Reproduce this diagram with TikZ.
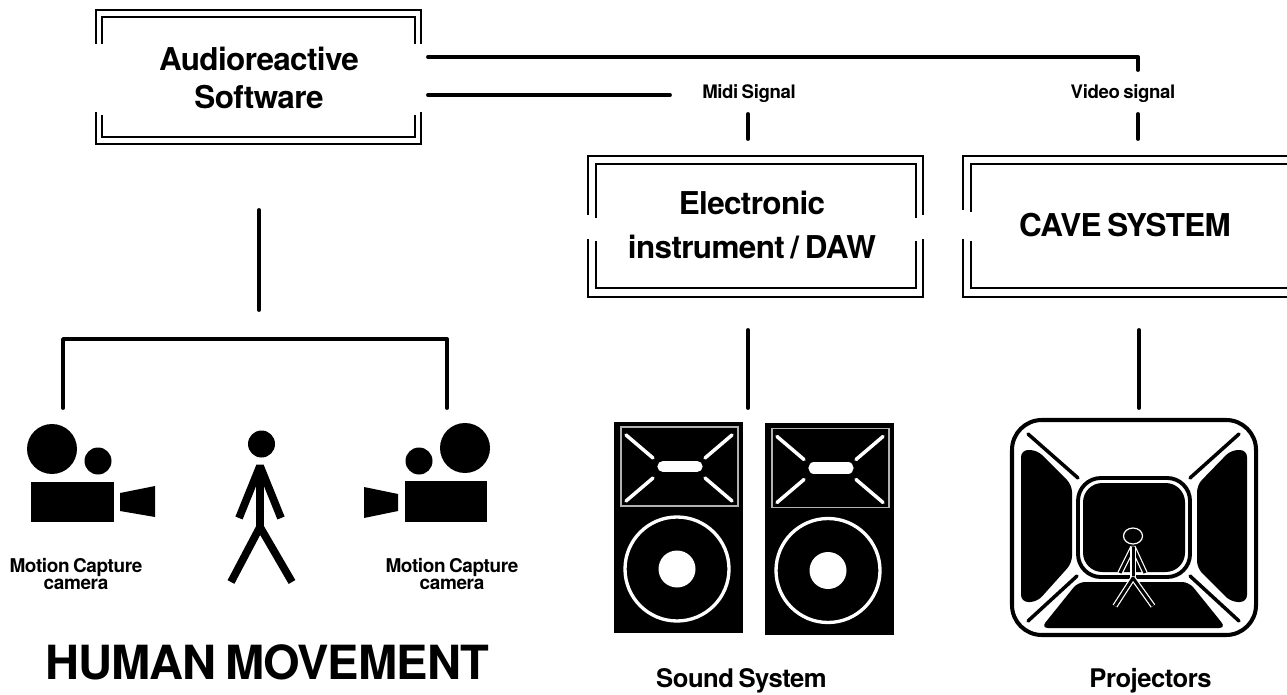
\documentclass[tikz,border=0pt]{standalone}
\usepackage{fontspec}
\setmainfont[LetterSpace=-2.0,WordSpace=0.7]{TeX Gyre Heros}
\usepackage{tikz}

\newcommand{\gapframe}[6]{%
    \draw[boxline] (#1,#5) -- (#1,#2) -- (#3,#2) -- (#3,#5);
    \draw[boxline] (#1,#6) -- (#1,#4) -- (#3,#4) -- (#3,#6);
}

\tikzset{
    boxline/.style={line width=1.2pt, line cap=butt},
    wire/.style={line width=2.2pt, line cap=round, line join=round},
    boxtext/.style={font=\fontsize{17.9}{19}\selectfont\bfseries, align=center, inner sep=0pt},
    labeltext/.style={font=\fontsize{14.6}{16}\selectfont\bfseries, align=center, inner sep=0pt},
    smalltext/.style={font=\fontsize{10.6}{11}\selectfont\bfseries, align=center, inner sep=0pt},
    camtext/.style={font=\fontsize{10.8}{10}\selectfont\bfseries, align=center, inner sep=0pt},
    limb/.style={line width=4.4pt, line cap=butt, line join=bevel},
    thinlimb/.style={draw=white, double=black, line width=0.7pt, double distance=1.7pt, line join=bevel},
    ray/.style={white, line width=2pt, line cap=round},
    beam/.style={line width=2pt, line cap=round},
}

\begin{document}
\begin{tikzpicture}[x=0.02cm, y=-0.02cm]
    \useasboundingbox (0,0) rectangle (1287,695);

    \gapframe{96}{10}{421}{144}{44}{112}
    \gapframe{102}{17}{415}{137}{44}{115}
    \node[boxtext] (software) at (259,78) {Audioreactive\\[3pt]Software};

    \gapframe{588}{156}{923}{297}{215}{239}
    \gapframe{596}{164}{916}{288}{218}{241}
    \node[boxtext] (daw) at (752,225) {Electronic\\[5.6pt]instrument / DAW};

    \gapframe{963}{156}{1289}{297}{210}{239}
    \gapframe{971}{164}{1289}{288}{212}{241}
    \node[boxtext] (cave) at (1125,225) {CAVE SYSTEM};

    \node[smalltext] (midi) at (749,94) {Midi Signal};
    \node[smalltext] (video) at (1123,94) {Video signal};

    \coordinate (softtop) at (428,57);
    \coordinate (softmid) at (428,95);
    \coordinate (midileft) at (670,95);
    \coordinate (videotop) at (1138,57);
    \coordinate (videoend) at (1138,70);
    \draw[wire] (softtop) -- (videotop) -- (videoend);
    \draw[wire] (softmid) -- (midileft);
    \coordinate (midia) at (748,114);
    \coordinate (midib) at (748,139);
    \draw[wire] (midia) -- (midib);
    \coordinate (videoa) at (1138,114);
    \coordinate (videob) at (1138,139);
    \draw[wire] (videoa) -- (videob);

    \coordinate (softdown) at (259,210);
    \coordinate (softend) at (259,310);
    \draw[wire] (softdown) -- (softend);
    \coordinate (camleft) at (63,408);
    \coordinate (camleftup) at (63,339);
    \coordinate (camrightup) at (447,339);
    \coordinate (camright) at (447,408);
    \draw[wire] (camleft) -- (camleftup) -- (camrightup) -- (camright);
    \coordinate (dawdown) at (748,330);
    \coordinate (dawend) at (748,408);
    \draw[wire] (dawdown) -- (dawend);
    \coordinate (cavedown) at (1139,330);
    \coordinate (caveend) at (1139,408);
    \draw[wire] (cavedown) -- (caveend);

    \fill (52,449) circle (25);
    \fill (98,461) circle (13.5);
    \fill (31,482) rectangle (113.5,522);
    \fill (120,493) -- (155,486) -- (155,517) -- (120,511) -- cycle;
    \node[camtext] (camlabelleft) at (76,574) {Motion Capture\\camera};

    \fill (465,448) circle (25);
    \fill (419,461) circle (13.5);
    \fill (405,481) rectangle (487,522);
    \fill (364,487) -- (398,494) -- (398,511) -- (364,518) -- cycle;
    \node[camtext] (camlabelright) at (452,574) {Motion Capture\\camera};

    \fill (261.5,444) circle (13.5);
    \draw[limb] (239,518) -- (260,466) -- (281,518);
    \draw[limb] (260,466) -- (260,532);
    \draw[limb] (231,582) -- (260,527) -- (292,582);

    \node[font=\fontsize{26.8}{30}\selectfont\bfseries, inner sep=0pt] (human) at (267,662) {HUMAN MOVEMENT};

    \foreach \dx/\dy in {0/0, 151/1.5} {
        \begin{scope}[shift={(\dx,\dy)}]
            \fill (614,422) rectangle (743,633);
            \draw[white!70!black, line width=1.1pt] (621,427) rectangle (738,506);
            \draw[white, line width=6.4pt, line cap=round] (663,466.5) -- (697,466.5);
            \draw[ray] (626,435) -- (653,458);
            \draw[ray] (732,435) -- (705,458);
            \draw[ray] (626,501) -- (653,478);
            \draw[ray] (732,501) -- (705,478);
            \draw[white, line width=1.9pt] (677,569) circle (52);
            \fill[white] (677,569) circle (18.5);
        \end{scope}
    }
    \node[labeltext] (sound) at (741.5,681) {Sound System};

    \draw[line width=2.3pt, rounded corners=17pt] (1012,420) rectangle (1256,635);
    \draw[line width=2.2pt, rounded corners=13pt] (1078,478) rectangle (1190,577);
    \fill[rounded corners=11pt] (1083,483) rectangle (1185,572);
    \draw[beam] (1028,434) -- (1078,478);
    \draw[beam] (1239,434) -- (1190,478);
    \draw[beam] (1028,621) -- (1077,576);
    \draw[beam] (1239,621) -- (1190,576);
    \fill[rounded corners=4pt] (1021,450) -- (1037,450) -- (1072,485) -- (1072,563) -- (1037,602) -- (1021,602) -- cycle;
    \fill[rounded corners=4pt] (1247,450) -- (1231,450) -- (1197,485) -- (1197,568) -- (1231,602) -- (1247,602) -- cycle;
    \fill[rounded corners=4pt] (1078,582) -- (1189,582) -- (1226,628) -- (1041,628) -- cycle;

    \draw[white, line width=0.7pt, fill=black] (1133,536) ellipse (9.5 and 8);
    \draw[thinlimb] (1120,573) -- (1133,547) -- (1145,573);
    \draw[thinlimb] (1133,547) -- (1133,578);
    \draw[thinlimb] (1115,606) -- (1133,578) -- (1153,606);

    \node[labeltext] (projectors) at (1150.5,681) {Projectors};
\end{tikzpicture}
\end{document}
